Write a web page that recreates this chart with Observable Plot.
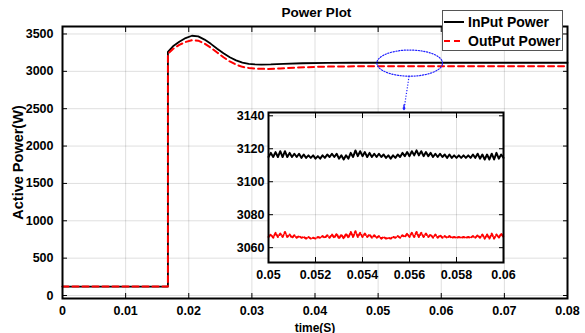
<!DOCTYPE html>
<html>
<head>
<meta charset="utf-8">
<script src="https://cdn.jsdelivr.net/npm/d3@7"></script>
<script src="https://cdn.jsdelivr.net/npm/@observablehq/plot@0.6"></script>
<style>
  body { margin: 0; background: #fff; }
  #chart { position: relative; width: 585px; height: 333px; overflow: hidden;
           font-family: "Liberation Sans", Arial, sans-serif; font-weight: bold; color: #000; }
  #chart > * { position: absolute; }
  #chart > #title { left: 0; width: 633px; top: 5px; text-align: center; font-size: 13.5px; }
  #chart > #legend { left: 442px; top: 10px; width: 119px; height: 39px; background: #fff;
            border: 1px solid #555; font-size: 14px; }
  #legend .row { position: absolute; left: 0; height: 19px; display: flex; align-items: center; }
  #legend svg { margin: 0 4px 0 1px; }
</style>
</head>
<body>
<div id="chart"></div>
<script>
// Simulated active power: input (source side) and output (load side), watts vs seconds
const inputTime  = [0, 0.0167, 0.0167, 0.0175, 0.0185, 0.0195, 0.0205, 0.0215, 0.0225, 0.0235, 0.0245, 0.0255, 0.0265, 0.0275, 0.0285, 0.0295, 0.0305, 0.0315, 0.0330, 0.0350, 0.0380, 0.0420, 0.0460, 0.0800];
const inputPower = [120, 120, 3260, 3335, 3395, 3445, 3476, 3468, 3425, 3368, 3302, 3242, 3188, 3147, 3117, 3100, 3093, 3091, 3093, 3100, 3108, 3113, 3115, 3115];

const outputTime  = [0, 0.0167, 0.0167, 0.0175, 0.0185, 0.0195, 0.0205, 0.0215, 0.0225, 0.0235, 0.0245, 0.0255, 0.0265, 0.0275, 0.0285, 0.0295, 0.0310, 0.0325, 0.0345, 0.0370, 0.0400, 0.0440, 0.0480, 0.0800];
const outputPower = [120, 120, 3235, 3300, 3355, 3393, 3416, 3410, 3372, 3316, 3252, 3188, 3132, 3090, 3060, 3045, 3035, 3032, 3038, 3050, 3060, 3066, 3067, 3067];

// Zoomed window 0.05–0.06 s, sampled every 0.1 ms
const zoomStart = 0.05;
const zoomStep = 0.0001;
const zoomInput = [
  3115, 3117.5, 3115, 3118, 3115, 3118.5, 3115, 3118.5, 3115, 3117.5, 3115,
  3117, 3115, 3117, 3114.5, 3116.5, 3114.5, 3116, 3114.5, 3116, 3114,
  3115.5, 3114, 3116, 3114.5, 3116.5, 3115, 3117, 3115, 3117, 3114,
  3116, 3113.5, 3116, 3114, 3117.5, 3115, 3119, 3115.5, 3118.5, 3115.5,
  3118, 3115, 3117.5, 3115, 3117, 3115, 3117, 3115, 3116.5, 3114.5,
  3116, 3114, 3116, 3114.5, 3116.5, 3115, 3117.5, 3115.5, 3118, 3115.5,
  3118.5, 3116, 3119, 3116, 3118.5, 3115.5, 3118, 3115.5, 3117.5, 3115,
  3117, 3115, 3117, 3115, 3116.5, 3114.5, 3116.5, 3114.5, 3116, 3114.5,
  3116, 3114.5, 3116, 3114.5, 3116, 3114.5, 3116.5, 3114.5, 3117, 3114,
  3116.5, 3113.5, 3116.5, 3113.5, 3117, 3113.5, 3117.5, 3114, 3116.5, 3114.5
];
const zoomOutput = [
  3066.5, 3068, 3066, 3069, 3066.5, 3068.5, 3066.5, 3069.5, 3066.5, 3068, 3066,
  3067.5, 3066, 3067, 3066, 3066.5, 3065.5, 3066.5, 3065.5, 3066, 3065.5,
  3066.5, 3066, 3067, 3066, 3067.5, 3066, 3068, 3066, 3068.5, 3065.5,
  3068, 3065.5, 3068.5, 3066, 3069.5, 3066.5, 3070, 3066.5, 3069, 3066.5,
  3068.5, 3066.5, 3068, 3066, 3067.5, 3066, 3067, 3065.5, 3066.5, 3065.5,
  3066, 3065.5, 3066.5, 3066, 3067, 3066, 3067.5, 3066.5, 3068.5, 3066.5,
  3069, 3066.5, 3069.5, 3066.5, 3069, 3066.5, 3068.5, 3066.5, 3068, 3066,
  3068, 3066, 3067.5, 3066, 3067, 3066, 3067, 3066, 3066.5, 3066,
  3066.5, 3066, 3066.5, 3066, 3066.5, 3066, 3067, 3066, 3067.5, 3066,
  3068, 3065.5, 3068, 3065.5, 3068.5, 3065.5, 3068, 3066, 3068.5, 3066.5
];

const xTicks = [0, 0.01, 0.02, 0.03, 0.04, 0.05, 0.06, 0.07, 0.08];
const yTicks = [0, 500, 1000, 1500, 2000, 2500, 3000, 3500];
const zoomXTicks = [0.05, 0.052, 0.054, 0.056, 0.058, 0.06];
const zoomYTicks = [3060, 3080, 3100, 3120, 3140];

const seriesNames = ["InPut Power", "OutPut Power"];

const toRows = (ts, ps) => ts.map((t, i) => ({t, p: ps[i]}));
const inputRows = toRows(inputTime, inputPower);
const outputRows = toRows(outputTime, outputPower);
const zoomInputRows = zoomInput.map((p, i) => ({t: zoomStart + i * zoomStep, p}));
const zoomOutputRows = zoomOutput.map((p, i) => ({t: zoomStart + i * zoomStep, p}));

// Callout: ellipse around the zoomed window on the main curves, in data units
const callout = {t: 0.055, p: 3110, rt: 0.0052, rp: 175};
const ellipse = d3.range(0, 361, 4).map(a => ({
  t: callout.t + callout.rt * Math.cos(a * Math.PI / 180),
  p: callout.p + callout.rp * Math.sin(a * Math.PI / 180)
}));
const pointer = [{x1: 0.0549, y1: callout.p - callout.rp, x2: 0.0541, y2: 2490}];

const fmt = d => String(d);
const font = {fontFamily: "'Liberation Sans', Arial, sans-serif", fontWeight: "bold", fontSize: "12.5px",
              background: "none", overflow: "visible", color: "#000"};

const main = Plot.plot({
  width: 585, height: 333,
  marginLeft: 62, marginRight: 18, marginTop: 26, marginBottom: 35,
  style: font,
  x: {domain: [0, 0.08]},
  y: {domain: [-40, 3600]},
  marks: [
    Plot.gridX(xTicks, {stroke: "#000", strokeOpacity: 0.13}),
    Plot.gridY(yTicks, {stroke: "#000", strokeOpacity: 0.13}),
    Plot.line(inputRows, {x: "t", y: "p", stroke: "#000", strokeWidth: 1.8}),
    Plot.line(outputRows, {x: "t", y: "p", stroke: "#ff0000", strokeWidth: 2, strokeDasharray: "6,4"}),
    Plot.line(ellipse, {x: "t", y: "p", stroke: "#2020ff", strokeWidth: 1.2, strokeDasharray: "1.2,1.6"}),
    Plot.link(pointer, {x1: "x1", y1: "y1", x2: "x2", y2: "y2", stroke: "#2020ff", strokeWidth: 1.2, strokeDasharray: "1.2,1.6"}),
    Plot.arrow(pointer, {x1: "x2", y1: d => d.y2 + 60, x2: "x2", y2: "y2", stroke: "#2020ff", strokeWidth: 1.4, headLength: 7}),
    Plot.frame({stroke: "#000", strokeWidth: 2}),
    Plot.axisX(xTicks, {anchor: "bottom", tickSize: -5, tickPadding: 13, tickFormat: fmt, label: null}),
    Plot.axisX(xTicks, {anchor: "top", tickSize: -5, tickFormat: () => "", label: null}),
    Plot.axisY(yTicks, {anchor: "left", tickSize: -5, tickPadding: 14, tickFormat: fmt, label: null}),
    Plot.axisY(yTicks, {anchor: "right", tickSize: -5, tickFormat: () => "", label: null}),
    Plot.axisX({anchor: "bottom", ticks: [], label: "time(S)", labelAnchor: "center", labelOffset: 33,
      labelArrow: "none", fontSize: 12}),
    Plot.axisY({anchor: "left", ticks: [], label: "Active Power(W)", labelAnchor: "center", labelOffset: 50,
      labelArrow: "none", fontSize: 14.5})
  ]
});

const inset = Plot.plot({
  width: 290, height: 185,
  marginLeft: 40, marginRight: 15, marginTop: 7, marginBottom: 28,
  style: font,
  x: {domain: [0.05, 0.06]},
  y: {domain: [3051, 3142]},
  marks: [
    Plot.frame({fill: "#fff"}),
    Plot.gridX(zoomXTicks, {stroke: "#000", strokeOpacity: 0.13}),
    Plot.gridY(zoomYTicks, {stroke: "#000", strokeOpacity: 0.13}),
    Plot.line(zoomInputRows, {x: "t", y: "p", stroke: "#000", strokeWidth: 2}),
    Plot.line(zoomOutputRows, {x: "t", y: "p", stroke: "#ff0000", strokeWidth: 2, strokeDasharray: "3,2"}),
    Plot.frame({stroke: "#000", strokeWidth: 2}),
    Plot.axisX(zoomXTicks, {anchor: "bottom", tickSize: -5, tickPadding: 13, tickFormat: fmt, label: null}),
    Plot.axisX(zoomXTicks, {anchor: "top", tickSize: -5, tickFormat: () => "", label: null}),
    Plot.axisY(zoomYTicks, {anchor: "left", tickSize: -5, tickPadding: 9, tickFormat: fmt, label: null}),
    Plot.axisY(zoomYTicks, {anchor: "right", tickSize: -5, tickFormat: () => "", label: null})
  ]
});

const chart = document.getElementById("chart");
main.style.left = "0px"; main.style.top = "0px";
inset.style.left = "228px"; inset.style.top = "105px";
chart.appendChild(main);
chart.appendChild(inset);

const title = document.createElement("div");
title.id = "title";
title.textContent = "Power Plot";
chart.appendChild(title);

// Legend box
const legend = document.createElement("div");
legend.id = "legend";
const swatches = [
  {stroke: "#000", dash: null},
  {stroke: "#ff0000", dash: "6,4"}
];
seriesNames.forEach((name, i) => {
  const row = document.createElement("div");
  row.className = "row";
  row.style.top = (1 + i * 19) + "px";
  const s = swatches[i];
  row.innerHTML = `<svg width="20" height="4"><line x1="0" y1="2" x2="20" y2="2" stroke="${s.stroke}" stroke-width="2"${s.dash ? ` stroke-dasharray="${s.dash}"` : ""}/></svg><span>${name}</span>`;
  legend.appendChild(row);
});
chart.appendChild(legend);
</script>
</body>
</html>
